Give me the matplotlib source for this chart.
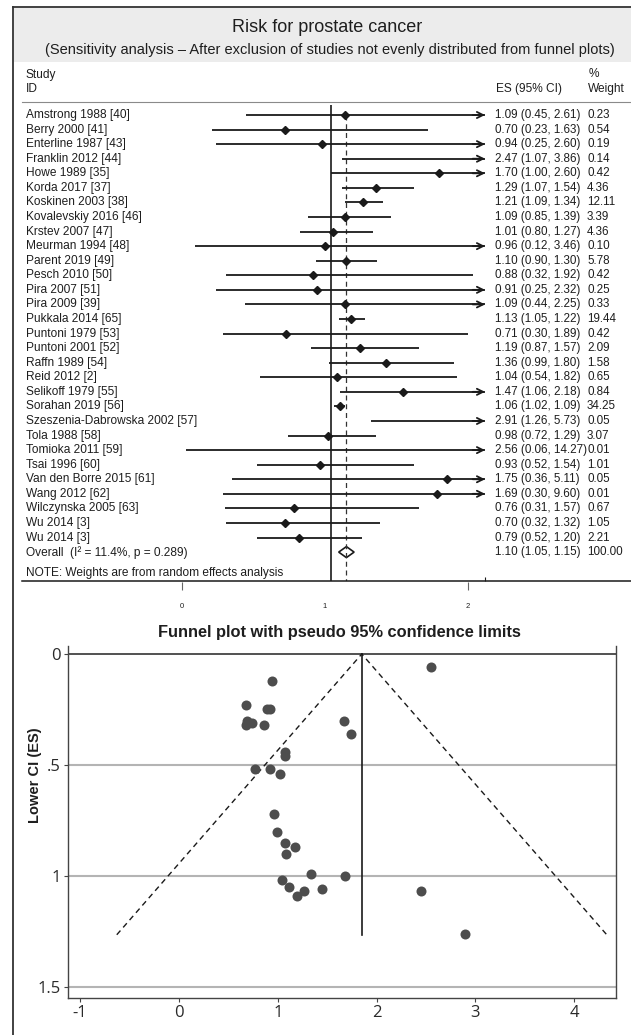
#!/usr/bin/env python3
"""Forest plot + funnel plot, prostate cancer sensitivity analysis."""

import matplotlib
matplotlib.use("Agg")
import matplotlib.pyplot as plt
from matplotlib.lines import Line2D
from matplotlib.patches import Polygon, Rectangle
from matplotlib.transforms import blended_transform_factory

plt.rcParams["font.family"] = ["Liberation Sans", "DejaVu Sans"]

# ---- forest plot data ----
studies = [
    "Amstrong 1988 [40]", "Berry 2000 [41]", "Enterline 1987 [43]",
    "Franklin 2012 [44]", "Howe 1989 [35]", "Korda 2017 [37]",
    "Koskinen 2003 [38]", "Kovalevskiy 2016 [46]", "Krstev 2007 [47]",
    "Meurman 1994 [48]", "Parent 2019 [49]", "Pesch 2010 [50]",
    "Pira 2007 [51]", "Pira 2009 [39]", "Pukkala 2014 [65]",
    "Puntoni 1979 [53]", "Puntoni 2001 [52]", "Raffn 1989 [54]",
    "Reid 2012 [2]", "Selikoff 1979 [55]", "Sorahan 2019 [56]",
    "Szeszenia-Dabrowska 2002 [57]", "Tola 1988 [58]", "Tomioka 2011 [59]",
    "Tsai 1996 [60]", "Van den Borre 2015 [61]", "Wang 2012 [62]",
    "Wilczynska 2005 [63]", "Wu 2014 [3]", "Wu 2014 [3]",
]
es = [1.09, 0.70, 0.94, 2.47, 1.70, 1.29, 1.21, 1.09, 1.01, 0.96, 1.10, 0.88,
      0.91, 1.09, 1.13, 0.71, 1.19, 1.36, 1.04, 1.47, 1.06, 2.91, 0.98, 2.56,
      0.93, 1.75, 1.69, 0.76, 0.70, 0.79]
ci_low = [0.45, 0.23, 0.25, 1.07, 1.00, 1.07, 1.09, 0.85, 0.80, 0.12, 0.90,
          0.32, 0.25, 0.44, 1.05, 0.30, 0.87, 0.99, 0.54, 1.06, 1.02, 1.26,
          0.72, 0.06, 0.52, 0.36, 0.30, 0.31, 0.32, 0.52]
ci_high = [2.61, 1.63, 2.60, 3.86, 2.60, 1.54, 1.34, 1.39, 1.27, 3.46, 1.30,
           1.92, 2.32, 2.25, 1.22, 1.89, 1.57, 1.80, 1.82, 2.18, 1.09, 5.73,
           1.29, 14.27, 1.54, 5.11, 9.60, 1.57, 1.32, 1.20]
weights = [0.23, 0.54, 0.19, 0.14, 0.42, 4.36, 12.11, 3.39, 4.36, 0.10, 5.78,
           0.42, 0.25, 0.33, 19.44, 0.42, 2.09, 1.58, 0.65, 0.84, 34.25, 0.05,
           3.07, 0.01, 1.01, 0.05, 0.01, 0.67, 1.05, 2.21]
overall_es, overall_low, overall_high = 1.10, 1.05, 1.15
overall_weight = 100.00
overall_label = "Overall  (I\u00b2 = 11.4%, p = 0.289)"
x_max = 2.0  # CIs beyond this get an arrow

# ---- funnel plot data ----
funnel_x = [2.55, 0.94, 0.68, 0.89, 0.92, 0.69, 0.74, 0.68, 0.86, 1.67,
            1.74, 1.07, 1.07, 0.77, 0.92, 1.02, 0.96, 0.99, 1.07, 1.17,
            1.08, 1.34, 1.68, 1.04, 1.11, 1.27, 1.45, 1.19, 2.45, 2.89]
funnel_y = [0.06, 0.12, 0.23, 0.25, 0.25, 0.30, 0.31, 0.32, 0.32, 0.30,
            0.36, 0.44, 0.46, 0.52, 0.52, 0.54, 0.72, 0.80, 0.85, 0.87,
            0.90, 0.99, 1.00, 1.02, 1.05, 1.07, 1.06, 1.09, 1.07, 1.26]
funnel_center = 1.85
funnel_se_max = 1.265
funnel_z = 1.96

W, H = 631, 1035
TXT = "#1e1e1e"
LN = "#1a1a1a"
FS_NAME = 8.6
FS_NUM = 8.4


def fx(px):
    return px / W


def fy(py):
    return 1 - py / H


fig = plt.figure(figsize=(W / 100, H / 100), dpi=100)

# outer frame (left + top only) and title band
fig.add_artist(Line2D([fx(13), fx(13)], [fy(7), 0], color="#333333", lw=1.3))
fig.add_artist(Line2D([fx(13), 1], [fy(7), fy(7)], color="#333333", lw=1.3))
fig.add_artist(Rectangle((fx(14), fy(62)), 1 - fx(14), fy(8) - fy(62),
                         transform=fig.transFigure, color="#ececec", lw=0))
fig.text(fx(327), fy(27), "Risk for prostate cancer", ha="center", va="center",
         fontsize=13, color=TXT)
fig.text(fx(330), fy(50),
         "(Sensitivity analysis \u2013 After exclusion of studies not evenly "
         "distributed from funnel plots)",
         ha="center", va="center", fontsize=10.5, color=TXT)

# column headers
hdr = dict(fontsize=FS_NAME, color=TXT, va="center")
fig.text(fx(26), fy(75), "Study", **hdr)
fig.text(fx(26), fy(89), "ID", **hdr)
fig.text(fx(496), fy(89), "ES (95% CI)", **hdr)
fig.text(fx(589), fy(74), "%", **hdr)
fig.text(fx(588), fy(89), "Weight", **hdr)
fig.add_artist(Line2D([fx(22), 1], [fy(102), fy(102)], color="#8a8a8a", lw=0.8))

# ---- forest axes ----
row0, row_h = 115, 14.57
ax = fig.add_axes([fx(177), fy(581), fx(485) - fx(177), fy(105) - fy(581)])
ax.set_xlim(0, x_max)
ax.set_ylim((581 - row0) / row_h, (105 - row0) / row_h)
for s in ax.spines.values():
    s.set_visible(False)
ax.set_yticks([])
ax.set_xticks([x_max])
ax.set_xticklabels([])
ax.tick_params(axis="x", direction="in", length=3, color=LN, width=0.8)

ax.axvline(1, color=LN, lw=1.2)
ax.plot([overall_es, overall_es], [0.0, (581 - row0) / row_h], color="#333333",
        lw=0.9, dashes=(4, 3))

trans = blended_transform_factory(fig.transFigure, ax.transData)
for i, name in enumerate(studies):
    hi = min(ci_high[i], x_max)
    ax.plot([ci_low[i], hi], [i, i], color=LN, lw=1.3, solid_capstyle="butt")
    if ci_high[i] > x_max:
        ax.annotate("", xy=(x_max, i), xytext=(x_max - 0.08, i),
                    arrowprops=dict(arrowstyle="->", color=LN, lw=1.3,
                                    mutation_scale=11, shrinkA=0, shrinkB=0))
    if es[i] <= x_max:
        ax.plot(es[i], i, marker="D", ms=4.2, color=LN, mec=LN)
    ax.text(fx(26), i, name, transform=trans, fontsize=FS_NAME, color=TXT,
            va="center")
    ax.text(fx(495), i, f"{es[i]:.2f} ({ci_low[i]:.2f}, {ci_high[i]:.2f})",
            transform=trans, fontsize=FS_NUM, color=TXT, va="center")
    ax.text(fx(587), i, f"{weights[i]:.2f}", transform=trans, fontsize=FS_NUM,
            color=TXT, va="center")

n = len(studies)
hd = 5.5 / row_h
ax.add_patch(Polygon([(overall_low, n), (overall_es, n - hd),
                      (overall_high, n), (overall_es, n + hd)],
                     closed=True, facecolor="white", edgecolor=LN, lw=1.2))
ax.text(fx(26), n, overall_label, transform=trans, fontsize=FS_NAME, color=TXT,
        va="center")
ax.text(fx(495), n, f"{overall_es:.2f} ({overall_low:.2f}, {overall_high:.2f})",
        transform=trans, fontsize=FS_NUM, color=TXT, va="center")
ax.text(fx(587), n, f"{overall_weight:.2f}", transform=trans, fontsize=FS_NUM,
        color=TXT, va="center")

fig.text(fx(26), fy(573), "NOTE: Weights are from random effects analysis",
         fontsize=FS_NAME, color=TXT, va="center")
fig.add_artist(Line2D([fx(22), 1], [fy(581), fy(581)], color=LN, lw=1.1))

# tick labels under the forest plot
axt = fig.add_axes([fx(182), fy(582), fx(468) - fx(182), 0.0005])
axt.set_xlim(0, 2)
for s in axt.spines.values():
    s.set_visible(False)
axt.set_yticks([])
axt.set_xticks([0, 1, 2])
axt.set_xticklabels(["0", "1", "2"], fontsize=5.5, color=TXT)
axt.tick_params(axis="x", length=6, width=0.8, color="#666666", pad=9)
axt.xaxis.get_major_ticks()[1].tick1line.set_visible(False)
axt.patch.set_visible(False)

# ---- funnel plot ----
fig.text(fx(339), fy(633), "Funnel plot with pseudo 95% confidence limits",
         ha="center", va="center", fontsize=11.8, fontweight="bold", color=TXT)

ax2 = fig.add_axes([fx(68), fy(998), fx(616) - fx(68), fy(646) - fy(998)])
ax2.set_xlim(-1.123, 4.423)
ax2.set_ylim(1.550, -0.036)
ax2.spines["top"].set_visible(False)
for k in ("left", "right", "bottom"):
    ax2.spines[k].set_color("#444444")
    ax2.spines[k].set_linewidth(1.0)
for yv in (0.5, 1.0, 1.5):
    ax2.axhline(yv, color="#b4b4b4", lw=1.5, zorder=1)
ax2.axhline(0, color="#333333", lw=1.2, zorder=1)

ax2.plot([funnel_center - funnel_z * funnel_se_max, funnel_center,
          funnel_center + funnel_z * funnel_se_max],
         [funnel_se_max, 0, funnel_se_max], color=LN, lw=1.0, dashes=(4, 3),
         zorder=2)
ax2.plot([funnel_center, funnel_center], [0, funnel_se_max], color=LN, lw=1.2,
         zorder=2)
ax2.scatter(funnel_x, funnel_y, s=52, color="#4d4d4d", zorder=3, lw=0)

ax2.set_xticks([-1, 0, 1, 2, 3, 4])
ax2.set_xticklabels(["-1", "0", "1", "2", "3", "4"])
ax2.set_yticks([0, 0.5, 1, 1.5])
ax2.set_yticklabels(["0", ".5", "1", "1.5"])
for lab in ax2.get_xticklabels() + ax2.get_yticklabels():
    lab.set_family(["Open Sans", "DejaVu Sans"])
    lab.set_fontsize(12)
    lab.set_color("#2a2a2a")
ax2.tick_params(length=3, width=0.8, color="#444444", pad=2)
fig.text(fx(35), fy(775), "Lower CI (ES)", rotation=90, ha="center",
         va="center", fontsize=10.5, fontweight="bold", color=TXT)

fig.savefig("out.png", dpi=100)
